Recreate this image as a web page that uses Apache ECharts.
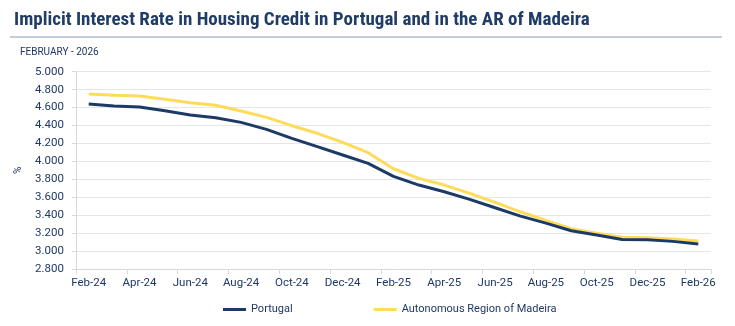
<!DOCTYPE html>
<html>
<head>
<meta charset="utf-8">
<script src="https://cdn.jsdelivr.net/npm/echarts@6/dist/echarts.min.js"></script>
<style>
  html, body { margin: 0; padding: 0; background: #fff; }
  #grafico { width: 735px; height: 326px; }
</style>
</head>
<body>
<div id="grafico"></div>
<script>
// meses (Feb-24 .. Feb-26)
const meses = ['Feb-24', 'Mar-24', 'Apr-24', 'May-24', 'Jun-24', 'Jul-24', 'Aug-24', 'Sep-24',
  'Oct-24', 'Nov-24', 'Dec-24', 'Jan-25', 'Feb-25', 'Mar-25', 'Apr-25', 'May-25', 'Jun-25',
  'Jul-25', 'Aug-25', 'Sep-25', 'Oct-25', 'Nov-25', 'Dec-25', 'Jan-26', 'Feb-26']

const valoresPortugal = [4.640, 4.617, 4.606, 4.565, 4.517, 4.487, 4.435, 4.357, 4.257, 4.164,
  4.071, 3.978, 3.833, 3.736, 3.661, 3.577, 3.483, 3.390, 3.312, 3.226, 3.178, 3.130, 3.126,
  3.108, 3.078]

const valoresMadeira = [4.751, 4.737, 4.729, 4.692, 4.654, 4.625, 4.562, 4.491, 4.398, 4.313,
  4.212, 4.097, 3.918, 3.811, 3.736, 3.644, 3.543, 3.438, 3.342, 3.249, 3.200, 3.153, 3.149,
  3.134, 3.111]

const titulo = 'Implicit Interest Rate in Housing Credit in Portugal and in the AR of Madeira'
const subtitulo = 'FEBRUARY - 2026'

const azul = '#1b3a66'
const amarillo = '#ffdb5c'
const textoColor = '#1f3864'
const fuente = 'Roboto, "Liberation Sans", Arial, sans-serif'

const chart = echarts.init(document.getElementById('grafico'), null, { renderer: 'canvas' })

let option = {
  animation: false,
  textStyle: { fontFamily: fuente, color: textoColor },
  title: [
    {
      text: titulo,
      left: 9,
      top: 6,
      textStyle: {
        fontFamily: '"Liberation Sans Narrow", "Roboto Condensed", Roboto, sans-serif',
        fontWeight: 'bold',
        fontSize: 19,
        color: '#1f3d66'
      }
    },
    {
      text: subtitulo,
      left: 15,
      top: 42,
      textStyle: {
        fontFamily: fuente,
        fontWeight: 'normal',
        fontSize: 10,
        color: textoColor
      }
    }
  ],
  graphic: [
    {
      type: 'line',
      shape: { x1: 10, y1: 37, x2: 722, y2: 37 },
      style: { stroke: '#8a9bb3', lineWidth: 1 }
    }
  ],
  grid: {
    left: 76,
    right: 24,
    top: 71.7,
    bottom: 57
  },
  legend: {
    bottom: 6,
    left: 218,
    icon: 'rect',
    itemWidth: 23,
    itemHeight: 3,
    itemGap: 81,
    textStyle: { fontSize: 11, color: textoColor, fontFamily: fuente },
    data: ['Portugal', 'Autonomous Region of Madeira']
  },
  xAxis: {
    type: 'category',
    data: meses,
    boundaryGap: true,
    axisLine: { lineStyle: { color: '#d9d9d9' } },
    axisTick: { show: true, interval: 1, length: 5, lineStyle: { color: '#d9d9d9' } },
    axisLabel: { interval: 1, fontSize: 11.5, color: textoColor, margin: 8 },
    splitLine: { show: false }
  },
  yAxis: {
    type: 'value',
    min: 2.8,
    max: 5.0,
    interval: 0.2,
    name: '%',
    nameLocation: 'middle',
    nameRotate: 90,
    nameGap: 53,
    nameTextStyle: { fontSize: 10, color: textoColor },
    axisLine: { show: true, lineStyle: { color: '#d9d9d9' } },
    axisTick: { show: true, length: 4, lineStyle: { color: '#d9d9d9' } },
    axisLabel: {
      fontSize: 11.5,
      color: textoColor,
      margin: 12,
      formatter: (v) => v.toFixed(3)
    },
    splitLine: { lineStyle: { color: '#e6e6e6', width: 1 } }
  },
  series: [
    {
      name: 'Portugal',
      type: 'line',
      data: valoresPortugal,
      symbol: 'none',
      smooth: false,
      z: 3,
      itemStyle: { color: azul },
      lineStyle: { width: 3, color: azul }
    },
    {
      name: 'Autonomous Region of Madeira',
      type: 'line',
      data: valoresMadeira,
      symbol: 'none',
      smooth: false,
      z: 2,
      itemStyle: { color: amarillo },
      lineStyle: { width: 3, color: amarillo }
    }
  ]
}

chart.setOption(option)
</script>
</body>
</html>
